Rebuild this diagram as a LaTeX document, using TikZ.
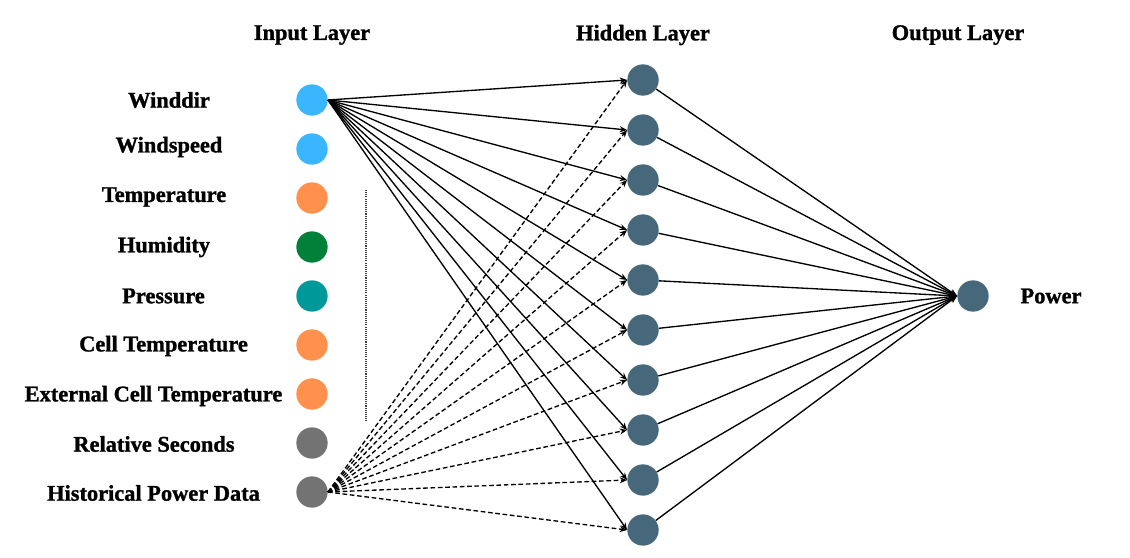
\documentclass[tikz,border=0pt]{standalone}
\usepackage{fontspec}
\setmainfont{Liberation Serif}[BoldFeatures={FakeBold=1.2}]
\usetikzlibrary{arrows.meta}
\definecolor{cblue}{RGB}{58,182,255}
\definecolor{corange}{RGB}{255,145,77}
\definecolor{cgreen}{RGB}{0,128,56}
\definecolor{cteal}{RGB}{0,153,153}
\definecolor{cgray}{RGB}{115,115,115}
\definecolor{chid}{RGB}{70,104,122}
\begin{document}
\begin{tikzpicture}[x=0.75pt,y=-0.75pt,
  neuron/.style={circle,inner sep=0pt,minimum size=23.5pt,draw=none},
  lbl/.style={font=\fontsize{16.8}{20}\selectfont\bfseries,inner sep=0pt,anchor=center},
  conn/.style={line width=1pt,-{Stealth[length=5.5pt,width=4.5pt]}},
  dconn/.style={conn,dash pattern=on 3.5pt off 2pt}]
\useasboundingbox (0,0) rectangle (1130,557);
\fill[white] (0,0) rectangle (1130,557);
% headers
\node[lbl] (hin) at (312,35) {Input Layer};
\node[lbl] (hhid) at (643,35) {Hidden Layer};
\node[lbl] (hout) at (958,35) {Output Layer};
% input neurons
\node[neuron,fill=cblue] (i1) at (312,100) {};
\node[neuron,fill=cblue] (i2) at (312,149) {};
\node[neuron,fill=corange] (i3) at (312,198) {};
\node[neuron,fill=cgreen] (i4) at (312,247) {};
\node[neuron,fill=cteal] (i5) at (312,296) {};
\node[neuron,fill=corange] (i6) at (312,345) {};
\node[neuron,fill=corange] (i7) at (312,394) {};
\node[neuron,fill=cgray] (i8) at (312,443) {};
\node[neuron,fill=cgray] (i9) at (312,492) {};
% labels
\node[lbl] (l1) at (169,100) {Winddir};
\node[lbl] (l2) at (169,147) {Windspeed};
\node[lbl] (l3) at (164,197) {Temperature};
\node[lbl] (l4) at (164,247) {Humidity};
\node[lbl] (l5) at (163.5,296) {Pressure};
\node[lbl] (l6) at (163.5,346) {Cell Temperature};
\node[lbl] (l7) at (153.5,396) {External Cell Temperature};
\node[lbl] (l8) at (154,444) {Relative Seconds};
\node[lbl] (l9) at (153.5,493) {Historical Power Data};
% dotted line
\coordinate (d1) at (366,190);
\coordinate (d2) at (366,422);
\draw[black!75,dash pattern=on 0.8pt off 0.8pt,line width=0.8pt] (d1) -- (d2);
% hidden neurons
\foreach \j in {0,...,9}{
  \node[neuron,fill=chid] (h\j) at (643,80+50*\j) {};
}
% output
\node[neuron,fill=chid] (o) at (973,296) {};
\node[lbl] (pw) at (1051,296) {Power};
% connections
\foreach \j in {0,...,9}{
  \draw[conn] (i1.east) -- (h\j.west);
  \draw[dconn] (i9.east) -- (h\j.west);
  \draw[conn] (h\j) -- (o.west);
}
\end{tikzpicture}
\end{document}
